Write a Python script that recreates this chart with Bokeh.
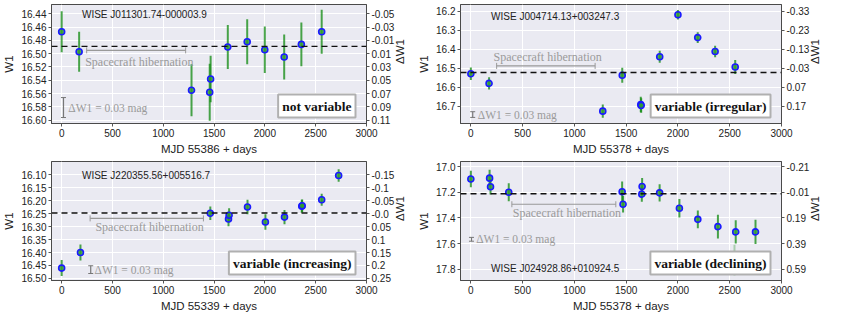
import math
from bokeh.plotting import figure
from bokeh.layouts import column, row
from bokeh.models import Range1d, LinearAxis, FixedTicker, Span, Label, Arrow, TeeHead, ColumnDataSource
from bokeh.embed import file_html
from bokeh.resources import INLINE

# ---------------- data ----------------
x_ticks = [0, 500, 1000, 1500, 2000, 2500, 3000]

# Panel 1: WISE J011301.74-000003.9 (not variable)
p1_days = [0, 172, 1278, 1457, 1466, 1635, 1826, 1999, 2190, 2359, 2559]
p1_w1 = [16.467, 16.497, 16.555, 16.558, 16.538, 16.490, 16.482, 16.494, 16.505, 16.486, 16.467]
p1_err = [0.031, 0.030, 0.039, 0.043, 0.035, 0.033, 0.034, 0.035, 0.034, 0.033, 0.033]
p1_yticks = [16.44, 16.46, 16.48, 16.50, 16.52, 16.54, 16.56, 16.58, 16.60]
p1_ylabels = ["16.44", "16.46", "16.48", "16.50", "16.52", "16.54", "16.56", "16.58", "16.60"]
p1_dlabels = ["-0.05", "-0.03", "-0.01", "0.01", "0.03", "0.05", "0.07", "0.09", "0.11"]
p1_mean = 16.489

# Panel 2: WISE J004714.13+003247.3 (variable, irregular)
p2_days = [0, 176, 1274, 1462, 1641, 1645, 1824, 2000, 2191, 2359, 2553]
p2_w1 = [16.528, 16.579, 16.725, 16.536, 16.690, 16.695, 16.439, 16.218, 16.338, 16.411, 16.493]
p2_err = [0.033, 0.032, 0.035, 0.039, 0.041, 0.038, 0.032, 0.025, 0.028, 0.030, 0.037]
p2_yticks = [16.2, 16.3, 16.4, 16.5, 16.6, 16.7]
p2_ylabels = ["16.2", "16.3", "16.4", "16.5", "16.6", "16.7"]
p2_dlabels = ["-0.33", "-0.23", "-0.13", "-0.03", "0.07", "0.17"]
p2_mean = 16.522

# Panel 3: WISE J220355.56+005516.7 (variable, increasing)
p3_days = [0, 185, 1463, 1642, 1648, 1829, 2005, 2193, 2363, 2367, 2559, 2726]
p3_w1 = [16.460, 16.400, 16.248, 16.270, 16.256, 16.224, 16.282, 16.263, 16.221, 16.219, 16.196, 16.102]
p3_err = [0.031, 0.031, 0.026, 0.028, 0.027, 0.028, 0.030, 0.028, 0.025, 0.024, 0.023, 0.024]
p3_yticks = [16.10, 16.15, 16.20, 16.25, 16.30, 16.35, 16.40, 16.45, 16.50]
p3_ylabels = ["16.10", "16.15", "16.20", "16.25", "16.30", "16.35", "16.40", "16.45", "16.50"]
p3_dlabels = ["-0.15", "-0.1", "-0.05", "-0.0", "0.05", "0.1", "0.15", "0.2", "0.25"]
p3_mean = 16.247

# Panel 4: WISE J024928.86+010924.5 (variable, declining)
p4_days = [0, 181, 190, 366, 1461, 1470, 1651, 1654, 1823, 2014, 2192, 2386, 2558, 2749]
p4_w1 = [17.096, 17.089, 17.156, 17.199, 17.195, 17.293, 17.214, 17.154, 17.204, 17.324, 17.411, 17.468, 17.509, 17.509]
p4_err = [0.065, 0.066, 0.060, 0.070, 0.080, 0.065, 0.060, 0.067, 0.068, 0.072, 0.070, 0.092, 0.090, 0.095]
p4_out_days = [2546]
p4_out_w1 = [17.73]
p4_out_err = [0.12]
p4_yticks = [17.0, 17.2, 17.4, 17.6, 17.8]
p4_ylabels = ["17.0", "17.2", "17.4", "17.6", "17.8"]
p4_dlabels = ["-0.21", "-0.01", "0.19", "0.39", "0.59"]
p4_mean = 17.211

# ---------------- style ----------------
SANS = "Liberation Sans"
SERIF = "Liberation Serif"
BG = "#EAEAF2"
GRAY_TXT = "#9a9a9a"


def errsource(days, w1, err):
    return ColumnDataSource(dict(
        x=days, y=w1,
        lo=[w - e for w, e in zip(w1, err)],
        hi=[w + e for w, e in zip(w1, err)],
    ))


def panel(days, w1, err, yticks, ylabels, dlabels, mean, ybottom, ytop, xlabel,
          title, title_pos, status, hib, hib_text_pos, scale_pos, scale_text_pos):
    p = figure(width=415, height=157, x_range=Range1d(-100, 3000),
               y_range=Range1d(ybottom, ytop), output_backend="svg",
               toolbar_location=None, min_border_left=44, min_border_right=46,
               min_border_top=4, min_border_bottom=2,
               background_fill_color=BG, border_fill_color="white",
               outline_line_color="#4a4a4a", outline_line_width=1)
    p.xaxis.ticker = FixedTicker(ticks=x_ticks)
    p.yaxis.ticker = FixedTicker(ticks=yticks)
    p.yaxis.major_label_overrides = dict(zip(yticks, ylabels))
    p.xgrid.ticker = FixedTicker(ticks=x_ticks)
    p.ygrid.ticker = FixedTicker(ticks=yticks)
    p.xgrid.grid_line_color = "white"
    p.ygrid.grid_line_color = "white"
    p.xgrid.grid_line_width = 1
    p.ygrid.grid_line_width = 1
    p.xaxis.axis_label = xlabel
    p.yaxis.axis_label = "W1"

    ra = LinearAxis(ticker=FixedTicker(ticks=yticks),
                    major_label_overrides=dict(zip(yticks, dlabels)),
                    axis_label="ΔW1", axis_label_orientation=math.pi / 2)
    p.add_layout(ra, "right")

    for ax in p.xaxis + p.yaxis:
        ax.major_label_text_font = SANS
        ax.major_label_text_font_size = "10px"
        ax.major_label_text_color = "#222222"
        ax.axis_label_text_font = SANS
        ax.axis_label_text_font_size = "11.5px"
        ax.axis_label_text_font_style = "normal"
        ax.axis_label_text_color = "#222222"
        ax.minor_tick_line_color = None
        ax.major_tick_in = 0
        ax.major_tick_out = 3
        ax.major_tick_line_color = "#555555"
        ax.axis_line_color = "#4a4a4a"
        ax.major_label_standoff = 2
        ax.axis_label_standoff = 3

    # mean line
    p.add_layout(Span(location=mean, dimension="width", line_color="#111111",
                      line_dash="6 4", line_width=1.4))

    # error bars and points
    src = errsource(days, w1, err)
    p.segment(x0="x", y0="lo", x1="x", y1="hi", source=src,
              line_color="#0f8a0f", line_alpha=0.75, line_width=2)
    p.scatter(x="x", y="y", source=src, size=6, line_color="#1a1aff",
              line_width=1.6, fill_color="#2e9e2e", fill_alpha=0.8)

    # hibernation bracket
    p.add_layout(Arrow(start=TeeHead(size=6, line_color="#999999", line_width=1),
                       end=TeeHead(size=6, line_color="#999999", line_width=1),
                       x_start=hib[0], y_start=hib[2], x_end=hib[1], y_end=hib[2],
                       line_color="#999999", line_width=1.2))
    p.add_layout(Label(x=hib_text_pos[0], y=hib_text_pos[1], text="Spacecraft hibernation",
                       text_font=SERIF, text_font_size="12px", text_color=GRAY_TXT,
                       text_baseline="middle", text_align="left"))

    # scale bar
    p.add_layout(Arrow(start=TeeHead(size=5, line_color="#777777", line_width=1),
                       end=TeeHead(size=5, line_color="#777777", line_width=1),
                       x_start=scale_pos[0], y_start=scale_pos[1] - 0.015,
                       x_end=scale_pos[0], y_end=scale_pos[1] + 0.015,
                       line_color="#777777", line_width=1.2))
    p.add_layout(Label(x=scale_text_pos[0], y=scale_text_pos[1], text="ΔW1 = 0.03 mag",
                       text_font=SERIF, text_font_size="11.5px", text_color=GRAY_TXT,
                       text_baseline="middle", text_align="left"))

    # title
    p.add_layout(Label(x=title_pos[0], y=title_pos[1], text=title, text_font=SANS,
                       text_font_size="10px", text_color="#222222",
                       text_baseline="middle", text_align="left"))

    # status box
    p.add_layout(Label(x=3000, y=ybottom, text=status, text_font=SERIF,
                       text_font_style="bold", text_font_size="13.5px", text_color="#111111",
                       text_align="right", text_baseline="bottom",
                       x_offset=-11, y_offset=6,
                       background_fill_color="white", border_line_color="#b0b0b0",
                       border_line_width=2, padding=4))
    return p


p1 = panel(p1_days, p1_w1, p1_err, p1_yticks, p1_ylabels, p1_dlabels, p1_mean,
           16.605, 16.426, "MJD 55386 + days", "WISE J011301.74-000003.9", (200, 16.441),
           "not variable", (246, 1220, 16.495), (231, 16.512), (18, 16.581), (65, 16.582))

p2 = panel(p2_days, p2_w1, p2_err, p2_yticks, p2_ylabels, p2_dlabels, p2_mean,
           16.79, 16.164, "MJD 55378 + days", "WISE J004714.13+003247.3", (195, 16.225),
           "variable (irregular)", (249, 1200, 16.487), (219, 16.438), (18, 16.743), (67, 16.743))

p3 = panel(p3_days, p3_w1, p3_err, p3_yticks, p3_ylabels, p3_dlabels, p3_mean,
           16.508, 16.048, "MJD 55339 + days", "WISE J220355.56+005516.7", (200, 16.101),
           "variable (increasing)", (280, 1395, 16.268), (332, 16.30), (286, 16.466), (323, 16.466))

p4 = panel(p4_days, p4_w1, p4_err, p4_yticks, p4_ylabels, p4_dlabels, p4_mean,
           17.889, 16.959, "MJD 55378 + days", "WISE J024928.86+010924.5", (195, 17.795),
           "variable (declining)", (396, 1400, 17.293), (405, 17.365), (6, 17.567), (51, 17.567))

# faded outlier in panel 4
out_src = errsource(p4_out_days, p4_out_w1, p4_out_err)
p4.segment(x0="x", y0="lo", x1="x", y1="hi", source=out_src,
           line_color="#0f8a0f", line_alpha=0.3, line_width=2)
p4.scatter(x="x", y="y", source=out_src, size=6, line_color="#1a1aff", line_alpha=0.25,
           line_width=1.6, fill_color="#2e9e2e", fill_alpha=0.2)

layout = column(row(p1, p2), row(p3, p4))
open("out.html", "w").write(file_html(layout, INLINE))
